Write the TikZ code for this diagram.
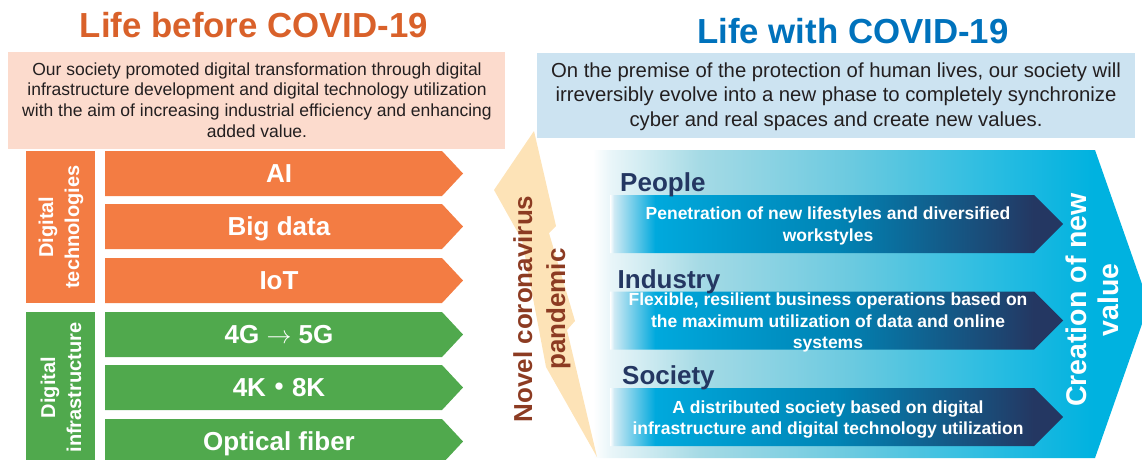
\documentclass[tikz,border=0pt]{standalone}
\usepackage{fontspec}
\setmainfont{Liberation Sans}
\newfontfamily\cjkfont{Noto Sans CJK JP}

% palette
\definecolor{techorange}{HTML}{F37C43}
\definecolor{infragreen}{HTML}{50A94D}
\definecolor{titleorange}{HTML}{D9612A}
\definecolor{titleblue}{HTML}{0072BC}
\definecolor{pinkbg}{HTML}{FCDBCD}
\definecolor{bluebg}{HTML}{CCE3F1}
\definecolor{boltfill}{HTML}{FDE3B7}
\definecolor{boltbrown}{HTML}{8C3B22}
\definecolor{navy}{HTML}{243762}
\definecolor{bodytext}{HTML}{231F20}
\definecolor{panelA}{HTML}{EAF6F9}
\definecolor{panelB}{HTML}{A5DAE5}
\definecolor{panelC}{HTML}{6CCAE0}
\definecolor{panelD}{HTML}{27BCE1}
\definecolor{panelE}{HTML}{00B2E0}
\definecolor{arrowA}{HTML}{CFEAF4}
\definecolor{arrowB}{HTML}{00A9DD}
\definecolor{arrowC}{HTML}{0084B5}
\definecolor{arrowD}{HTML}{1D4672}

% background band of the right half: white fading into cyan
\pgfdeclarehorizontalshading{panelshade}{100bp}{color(0bp)=(white); color(25bp)=(white);
  color(26.5bp)=(panelA); color(34.6bp)=(panelB); color(48bp)=(panelC);
  color(61.5bp)=(panelD); color(70bp)=(panelE); color(100bp)=(panelE)}
% inner arrows: light edge, cyan, then deep navy at the tip
\pgfdeclarehorizontalshading{navyarrow}{100bp}{color(0bp)=(white); color(25bp)=(white);
  color(25.45bp)=(arrowA); color(30bp)=(arrowB); color(50bp)=(arrowC);
  color(68bp)=(arrowD); color(71.8bp)=(navy); color(100bp)=(navy)}

\newcommand\setfs[2]{\fontsize{#1}{#2}\selectfont}

\begin{document}
\begin{tikzpicture}[x=1pt,y=-1pt,
  titletext/.style={anchor=base,inner sep=0pt,font=\setfs{34.8}{40}\bfseries},
  bodypara/.style={inner sep=0pt,align=center,text=bodytext},
  rowtext/.style={anchor=base,inner sep=0pt,text=white,font=\setfs{26}{30}\bfseries},
  sidelabel/.style={inner sep=0pt,align=center,rotate=90,text=white,font=\setfs{20}{26}\bfseries},
  arealabel/.style={anchor=base west,inner sep=0pt,text=navy,font=\setfs{26}{30}\bfseries},
  arrowtext/.style={inner sep=0pt,align=center,text=white,font=\setfs{17.5}{21.5}\bfseries}]
\useasboundingbox (0,0) rectangle (1142,459);

% ---------- right half: value-creation band ----------
\shade[shading=panelshade] (593,150) -- (1095,150) -- (1149,304) -- (1095,458) -- (593,458) -- cycle;

\foreach \t/\n in {195/people, 291.5/industry, 388/society}{
  \shade[shading=navyarrow] (610,\t) -- (1034,\t) -- (1063,\t+29) -- (1034,\t+58) -- (610,\t+58) -- cycle;
}

\node[arealabel] (lblpeople) at (620,191.5) {People};
\node[arealabel] (lblindustry) at (617.5,288) {Industry};
\node[arealabel] (lblsociety) at (622,384.5) {Society};

\node[arrowtext] (txtpeople) at (828,226) {Penetration of new lifestyles and diversified\\workstyles};
\node[arrowtext] (txtindustry) at (828,322.5) {Flexible, resilient business operations based on\\the maximum utilization of data and online\\systems};
\node[arrowtext] (txtsociety) at (828,419.5) {A distributed society based on digital\\infrastructure and digital technology utilization};

\node[inner sep=0pt,align=center,rotate=90,text=white,font=\setfs{28.5}{32}\bfseries]
  (creation) at (1092,300) {Creation of new\\value};

% ---------- lightning bolt of the pandemic ----------
\fill[boltfill] (534,131) -- (556,226) -- (549,233) -- (575,321) -- (567,330) -- (597,457)
  -- (546,367) -- (522,240) -- (494,190) -- cycle;
\node[inner sep=0pt,align=center,rotate=90,text=boltbrown,font=\setfs{26}{33}\bfseries]
  (pandemic) at (542,309) {Novel coronavirus\\pandemic};

% ---------- left half: digital technologies and infrastructure ----------
\fill[techorange] (26,151) rectangle (95,303);
\fill[infragreen] (26,312) rectangle (95,465);
\node[sidelabel] (dtech) at (61,227) {Digital\\technologies};
\node[sidelabel] (dinfra) at (61,387.5) {Digital\\infrastructure};

\foreach \y/\c/\n/\t in {151/techorange/ai/AI, 204/techorange/bigdata/Big data,
    258/techorange/iot/IoT, 312/infragreen/fiveg/{4G $\rightarrow$ 5G},
    365/infragreen/eightk/{4K{\cjkfont ・}8K}, 419/infragreen/fiber/Optical fiber}{
  \fill[\c] (105,\y) -- (442,\y) -- (463,\y+22.5) -- (442,\y+45) -- (105,\y+45) -- cycle;
  \node[rowtext] (\n) at (279,\y+31.8) {\t};
}

% ---------- headline boxes ----------
\fill[pinkbg] (8,52) rectangle (505,149);
\node[bodypara,font=\setfs{17.5}{20.7}] (pretext) at (257,100)
  {Our society promoted digital transformation through digital\\infrastructure development and digital technology utilization\\with the aim of increasing industrial efficiency and enhancing\\added value.};

\fill[bluebg] (537,53) rectangle (1135,138);
\node[bodypara,font=\setfs{20.3}{24.5}] (withtext) at (836,96.5)
  {On the premise of the protection of human lives, our society will\\irreversibly evolve into a new phase to completely synchronize\\cyber and real spaces and create new values.};

\node[titletext,text=titleorange] (titlebefore) at (254,37) {Life before COVID-19};
\node[titletext,text=titleblue] (titlewith) at (853,43) {Life with COVID-19};
\end{tikzpicture}
\end{document}
